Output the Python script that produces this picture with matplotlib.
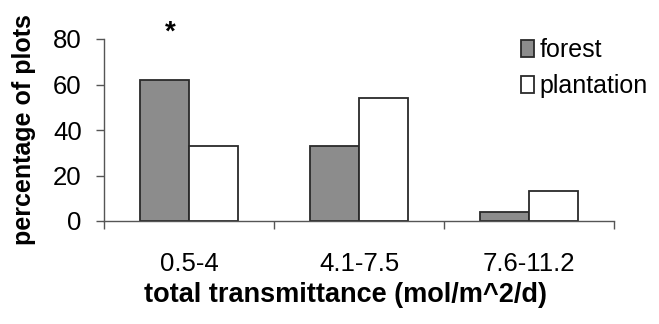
import matplotlib
matplotlib.use("Agg")
import matplotlib.pyplot as plt
import numpy as np

# percentage of plots in each transmittance class
categories = ["0.5-4", "4.1-7.5", "7.6-11.2"]
forest = [62, 33, 4]
plantation = [33, 54, 13]
series_labels = ["forest", "plantation"]

plt.rcParams["font.family"] = ["Liberation Sans", "DejaVu Sans"]

fig = plt.figure(figsize=(6.59, 3.24), dpi=100)
ax = fig.add_axes([104 / 659, 1 - 221 / 324, 510 / 659, 182 / 324])

x = np.arange(len(categories))
w = 0.29
edge = "#2a2a2a"
ax.bar(x - w / 2, forest, w, color="#8c8c8c", edgecolor=edge, linewidth=1.3,
       label=series_labels[0])
ax.bar(x + w / 2, plantation, w, color="white", edgecolor=edge, linewidth=1.3,
       label=series_labels[1])

ax.set_xlim(-0.5, len(categories) - 0.5)
ax.set_ylim(0, 80)
ax.set_yticks([0, 20, 40, 60, 80])

# major ticks at the class boundaries, labels centred under each group
ax.set_xticks(np.arange(len(categories) + 1) - 0.5)
ax.set_xticklabels([])
ax.set_xticks(x, minor=True)
ax.set_xticklabels(categories, minor=True)
ax.tick_params(axis="x", which="minor", length=0, pad=22, labelsize=18.5)
ax.tick_params(axis="x", which="major", length=6, width=1, color="#555555",
               direction="out")
ax.tick_params(axis="y", length=6, width=1, color="#555555", direction="out",
               labelsize=18.5, pad=10)

for side in ["top", "right"]:
    ax.spines[side].set_visible(False)
for side in ["left", "bottom"]:
    ax.spines[side].set_color("#555555")
    ax.spines[side].set_linewidth(1)

ax.set_ylabel("percentage of plots", fontsize=18, fontweight="bold")
ax.yaxis.set_label_coords(24 / 659, 1 - 130 / 324, transform=fig.transFigure)
ax.yaxis.label.set_va("center")
ax.set_xlabel("total transmittance (mol/m^2/d)", fontsize=19.5,
              fontweight="bold")
ax.xaxis.set_label_coords(346 / 659, 1 - 295 / 324, transform=fig.transFigure)
ax.xaxis.label.set_va("center")

# significance marker over the first class
ax.text(x[0] - 0.11, 83, "*", ha="center", va="center", fontsize=20,
        fontweight="bold", clip_on=False)

leg = ax.legend(loc="upper left", bbox_to_anchor=(521 / 659, 1 - 38 / 324),
                bbox_transform=fig.transFigure, frameon=False, fontsize=18,
                handlelength=0.5, handleheight=0.65, handletextpad=0.25,
                labelspacing=0.5, borderaxespad=0, borderpad=0)

fig.savefig("out.png", dpi=100)
